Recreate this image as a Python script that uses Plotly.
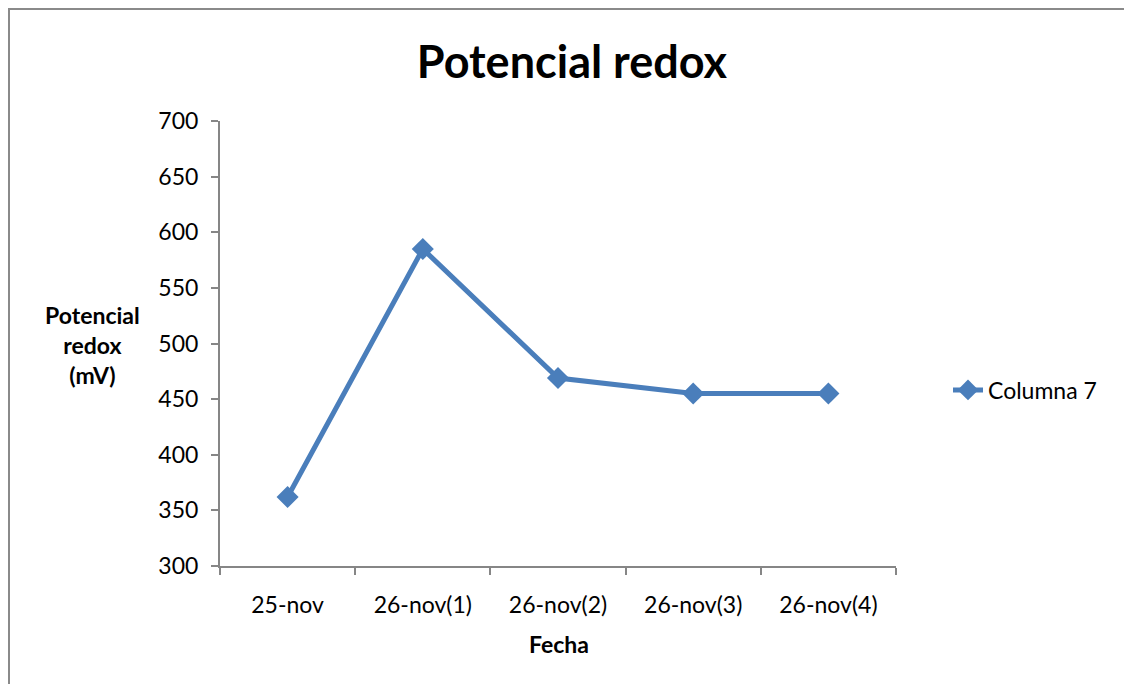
import plotly.graph_objects as go

categories = ["25-nov", "26-nov(1)", "26-nov(2)", "26-nov(3)", "26-nov(4)"]
values = [362, 585, 469, 455, 455]
series_name = "Columna 7"
y_ticks = [300, 350, 400, 450, 500, 550, 600, 650, 700]

FONT = "Lato"
FS = 23
OFF = 8  # page body offset
W, H = 1132, 684
L, R, T, B = 220 - OFF, 236 + OFF, 121 - OFF, 118 + OFF
pw, ph = W - L - R, H - T - B

def px_x(x):
    return (x - OFF - L) / pw

def px_y(y):
    return (H - B - (y - OFF)) / ph

fig = go.Figure()
fig.add_trace(go.Scatter(
    x=categories, y=values, name=series_name, mode="lines+markers",
    line=dict(color="#4a7ebb", width=5),
    marker=dict(symbol="diamond", size=17, color="#4a7ebb"),
))

fig.update_layout(
    width=W, height=H,
    margin=dict(l=L, r=R, t=T, b=B, autoexpand=False),
    paper_bgcolor="white", plot_bgcolor="white",
    font=dict(family=FONT, color="black", size=FS),
    title=dict(text="<b>Potencial redox</b>", x=px_x(572), xanchor="center",
               xref="paper",
               y=1 - (62 - OFF) / H, yanchor="middle",
               font=dict(family=FONT, size=45, color="black")),
    showlegend=True,
    legend=dict(x=px_x(948), xanchor="left", y=px_y(390), yanchor="middle",
                font=dict(family=FONT, size=FS, color="black"),
                bgcolor="rgba(0,0,0,0)"),
    xaxis=dict(type="category", range=[-0.5, len(categories) - 0.5],
               showline=True, linecolor="#868686", linewidth=2,
               ticks="outside", tickson="boundaries", ticklen=7, tickcolor="#868686",
               tickwidth=2, showgrid=False, zeroline=False, ticklabelstandoff=17,
               automargin=False,
               tickfont=dict(family=FONT, size=FS, color="black")),
    yaxis=dict(range=[300, 700], tickvals=y_ticks, showline=True, linecolor="#868686",
               linewidth=2, ticks="outside", ticklen=7, tickcolor="#868686", tickwidth=2,
               showgrid=False, zeroline=False, ticklabelstandoff=8, automargin=False,
               tickfont=dict(family=FONT, size=FS, color="black")),
)

fig.add_annotation(text="<b>Fecha</b>", xref="paper", yref="paper",
                   x=px_x(559), y=px_y(644), xanchor="center", yanchor="middle",
                   showarrow=False, font=dict(family=FONT, size=FS, color="black"))
fig.add_annotation(text="<b>Potencial<br>redox<br>(mV)</b>", xref="paper", yref="paper",
                   x=px_x(92), y=px_y(345), xanchor="center", yanchor="middle",
                   showarrow=False, align="center",
                   font=dict(family=FONT, size=FS, color="black"))

fig.add_shape(type="rect", xref="paper", yref="paper",
              x0=px_x(OFF + 1), x1=px_x(1150), y0=px_y(700), y1=px_y(OFF + 1),
              line=dict(color="#8a8a8a", width=2), fillcolor="rgba(0,0,0,0)", layer="below")

fig.write_html("out.html")
